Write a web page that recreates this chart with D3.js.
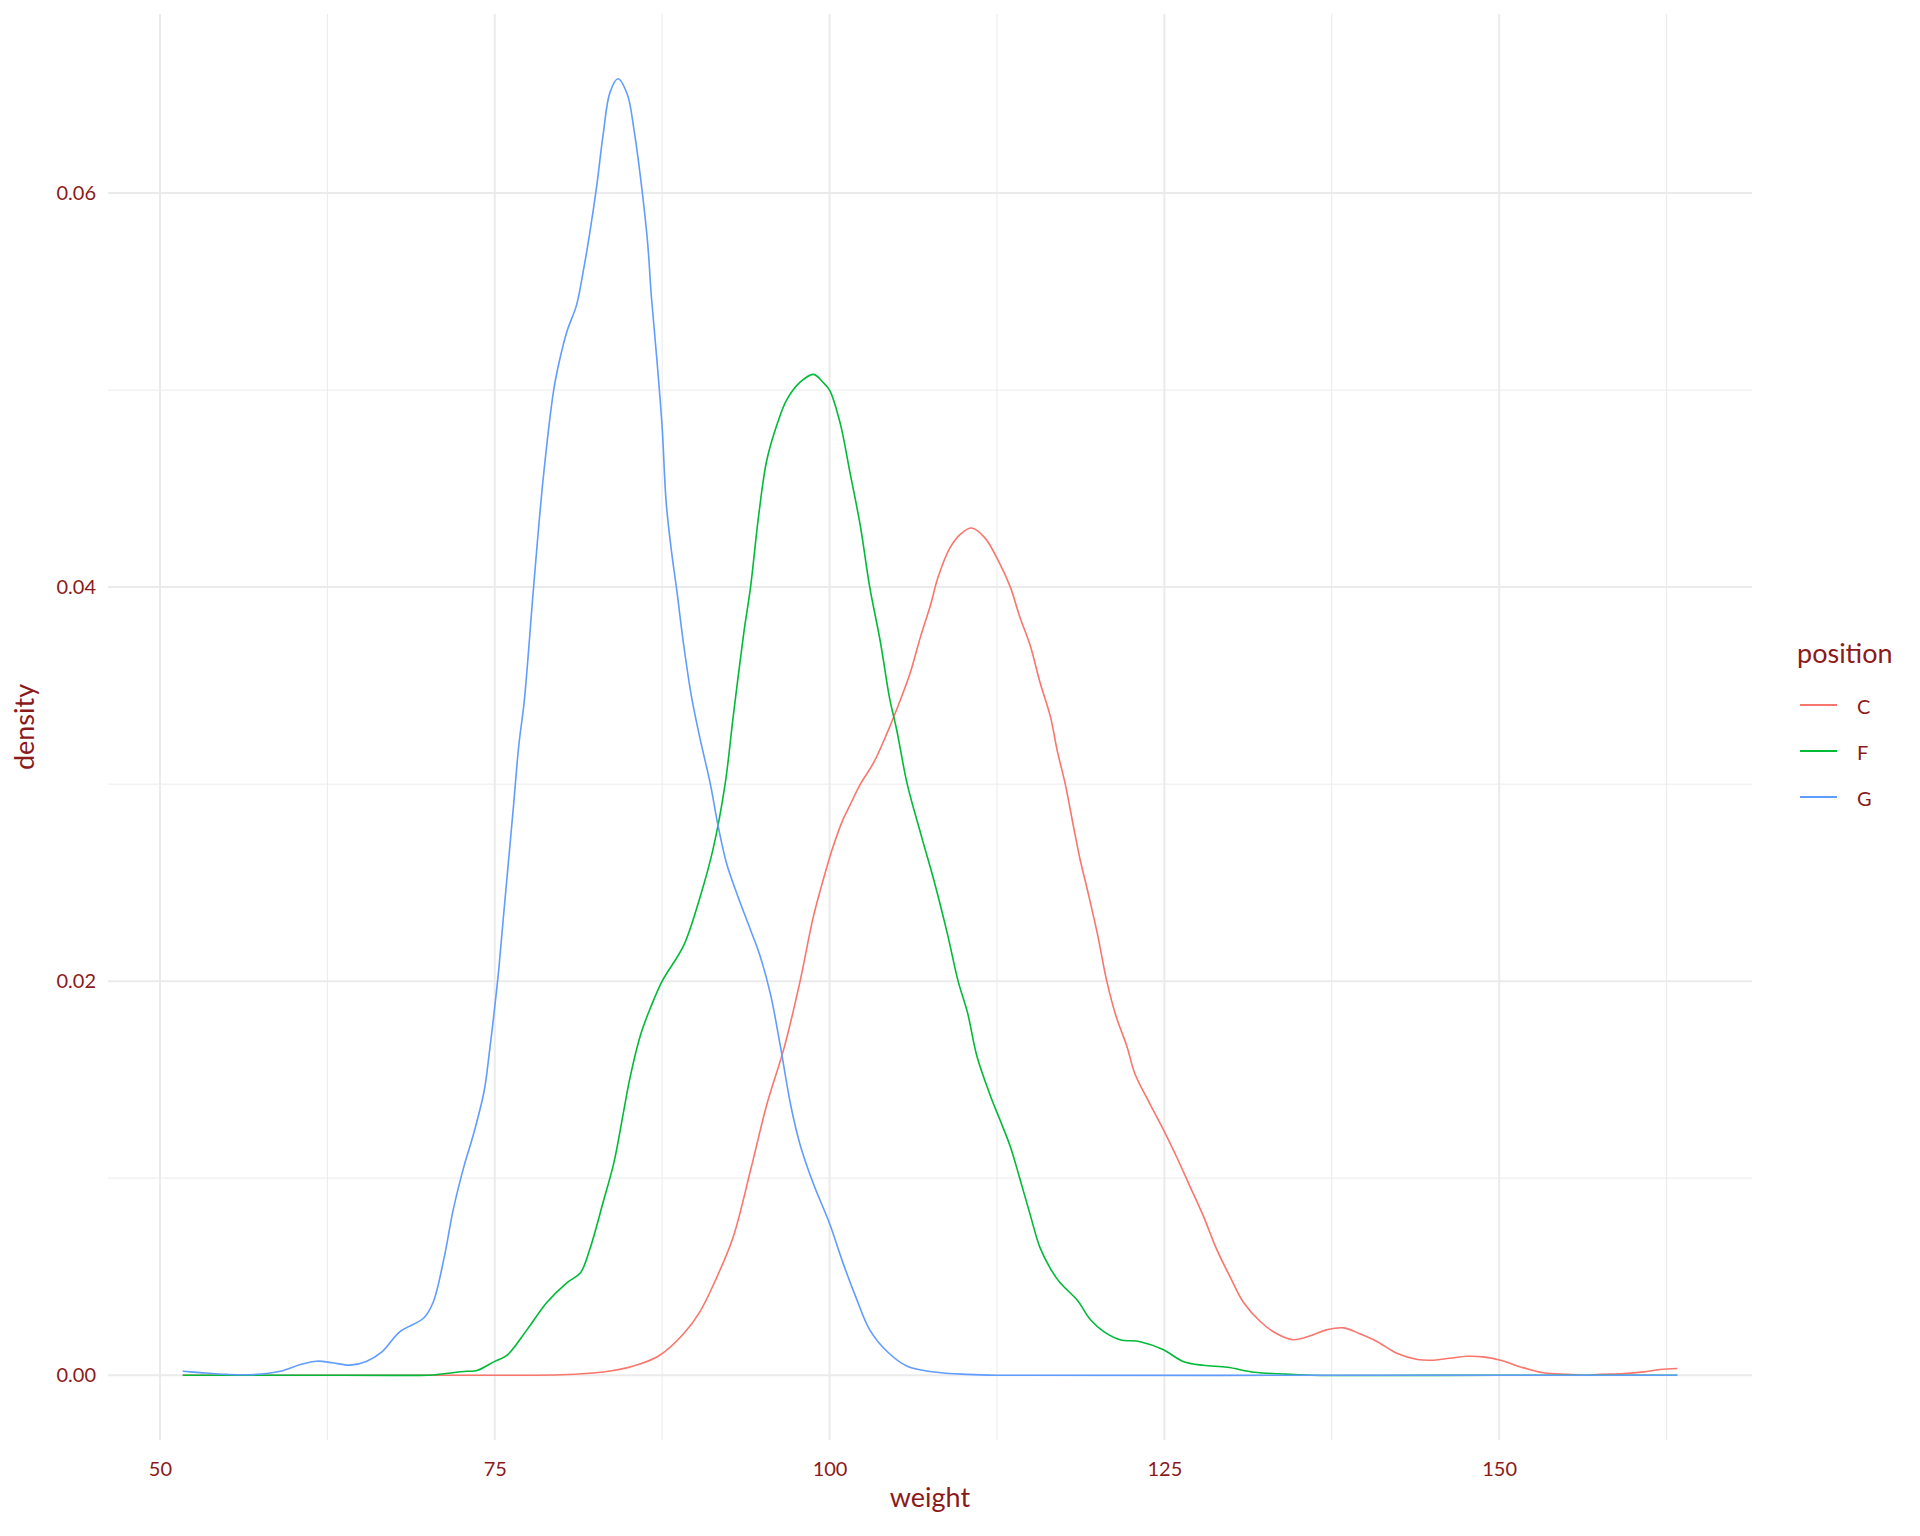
<!DOCTYPE html>
<html>
<head>
<meta charset="utf-8">
<script src="https://cdn.jsdelivr.net/npm/d3@7"></script>
<style>
	body { margin: 0; background: #fff; }
	svg text { font-family: Lato, "Open Sans", sans-serif; }
</style>
</head>
<body>
<script>
// data: [weight, density]
var groups = ["C", "F", "G"]
var colors = ["#F8766D", "#00BA38", "#619CFF"]

var densC = [
	[51.7, 0], [60, 0], [70, 0], [75, 0], [80, 0.00002], [83.1, 0.00016], [85.3, 0.00045],
	[87.3, 0.0010], [89.1, 0.0021], [90.3, 0.0032], [91.6, 0.0050], [92.8, 0.0070],
	[94.1, 0.0104], [95.3, 0.0137], [96.6, 0.0166], [97.8, 0.0200], [98.8, 0.0233],
	[99.8, 0.0258], [100.2, 0.0267], [101.0, 0.0282], [101.5, 0.0289], [102.3, 0.0300],
	[103.3, 0.0311], [104.3, 0.0326], [105.3, 0.0343], [106.0, 0.0356], [106.8, 0.0375],
	[107.5, 0.0390], [108.1, 0.0405], [109.0, 0.0420], [109.8, 0.0427], [110.6, 0.0430],
	[111.6, 0.0425], [112.7, 0.0412], [113.5, 0.0400], [114.2, 0.0385], [115.0, 0.0370],
	[115.7, 0.0352], [116.5, 0.0334], [117.0, 0.0317], [117.6, 0.0300], [118.2, 0.0279],
	[118.7, 0.0262], [119.3, 0.0245], [120.0, 0.0224], [120.7, 0.0200], [121.4, 0.0182],
	[122.2, 0.0167], [122.8, 0.0153], [123.9, 0.0138], [124.9, 0.0125], [125.9, 0.0111],
	[126.9, 0.0096], [127.9, 0.0081], [128.9, 0.0064], [129.9, 0.0050], [130.9, 0.0037],
	[132.2, 0.0027], [133.4, 0.0021], [134.6, 0.0018], [135.9, 0.0020], [137.1, 0.0023],
	[138.4, 0.0024], [139.6, 0.0021], [140.9, 0.0017], [142.4, 0.0011], [143.9, 0.0008],
	[144.9, 0.00076], [146.3, 0.00086], [147.6, 0.00096], [148.8, 0.00093], [150.1, 0.00076],
	[151.6, 0.00042], [153.3, 0.00012], [155.1, 0.00004], [156.5, 0], [157.5, 0.00004],
	[159.3, 0.00008], [160.8, 0.00017], [162.0, 0.00029], [163.3, 0.00034]
]

var densF = [
	[51.7, 0], [60, 0], [70, 0], [70.7, 0.00003], [72.9, 0.0002], [73.6, 0.00022],
	[75.0, 0.0007], [75.9, 0.0010], [77.4, 0.0023], [78.9, 0.0037], [80.4, 0.0047],
	[81.4, 0.0052], [82.1, 0.0064], [83.1, 0.0088], [83.9, 0.0108], [84.6, 0.0133],
	[85.1, 0.0151], [85.9, 0.0173], [86.6, 0.0186], [87.5, 0.0200], [89.1, 0.0218],
	[90.3, 0.0242], [91.3, 0.0267], [92.2, 0.0300], [92.8, 0.0334], [93.6, 0.0377],
	[94.1, 0.0400], [94.7, 0.0436], [95.3, 0.0464], [96.1, 0.0483], [96.8, 0.0495],
	[97.8, 0.0504], [98.8, 0.0508], [99.5, 0.0504], [100.0, 0.0500], [100.8, 0.0483],
	[101.5, 0.0459], [102.3, 0.0431], [103.0, 0.0400], [103.8, 0.0372], [104.5, 0.0343],
	[105.0, 0.0328], [105.8, 0.0300], [106.8, 0.0275], [107.8, 0.0251], [108.8, 0.0224],
	[109.6, 0.0200], [110.3, 0.0184], [111.0, 0.0162], [112.0, 0.0142], [112.7, 0.0130],
	[113.5, 0.0116], [114.2, 0.0100], [115.0, 0.0081], [115.7, 0.0065], [116.5, 0.0054],
	[117.2, 0.0047], [118.5, 0.0038], [119.5, 0.0028], [120.5, 0.0022], [121.7, 0.0018],
	[123.2, 0.0017], [124.9, 0.0013], [126.4, 0.0007], [127.9, 0.0005], [129.7, 0.0004],
	[131.7, 0.00015], [133.6, 0.00007], [136, 0], [150, 0], [163.3, 0]
]

var densG = [
	[51.7, 0.0002], [53.0, 0.00013], [55.0, 0.00004], [57.0, 0.00003], [59.0, 0.0002],
	[60.5, 0.00054], [61.7, 0.00071], [62.9, 0.00063], [64.2, 0.00051], [65.4, 0.0007],
	[66.6, 0.0012], [67.9, 0.0022], [69.7, 0.0029], [70.4, 0.0037], [71.2, 0.0059],
	[71.9, 0.0084], [72.7, 0.0106], [73.4, 0.0122], [74.2, 0.0144], [74.6, 0.0164],
	[75.0, 0.0187], [75.3, 0.0206], [75.6, 0.0229], [76.0, 0.0259], [76.4, 0.0289],
	[76.8, 0.0320], [77.2, 0.0342], [77.9, 0.0400], [78.6, 0.0454], [79.4, 0.0500],
	[79.8, 0.0514], [80.4, 0.0530], [81.1, 0.0543], [81.6, 0.0560], [82.1, 0.0580],
	[82.6, 0.0603], [83.1, 0.0630], [83.6, 0.0651], [84.2, 0.0658], [84.9, 0.0650],
	[85.4, 0.0632], [85.9, 0.0607], [86.4, 0.0576], [86.7, 0.0547], [87.1, 0.0516],
	[87.5, 0.0481], [87.8, 0.0443], [88.2, 0.0418], [88.6, 0.0398], [89.1, 0.0371],
	[89.7, 0.0344], [90.3, 0.0324], [91.1, 0.0300], [91.7, 0.0278], [92.3, 0.0260],
	[93.1, 0.0244], [94.1, 0.0226], [94.8, 0.0213], [95.6, 0.0193], [96.3, 0.0168],
	[97.1, 0.0137], [97.8, 0.0117], [98.8, 0.0097], [100.0, 0.0077], [101.0, 0.0057],
	[102.0, 0.0039], [103.0, 0.0023], [104.3, 0.0012], [105.8, 0.00045], [107.8, 0.00016],
	[110.3, 0.00004], [112.5, 0], [140, 0], [163.3, 0]
]

var xMajor = [50, 75, 100, 125, 150]
var xMinor = [62.5, 87.5, 112.5, 137.5, 162.5]
var yMajor = [0, 0.02, 0.04, 0.06]
var yMinor = [0.01, 0.03, 0.05]

var textCol = "#8B1A1A"
var panel = { left: 108, right: 1752, top: 14, bottom: 1440 }
var W = 1920, H = 1536

var series = [densC, densF, densG]

var svg = d3.select("body").append("svg")
	.attr("width", W)
	.attr("height", H)

// 5% expansion like ggplot
var allPts = d3.merge(series)
var xExt = d3.extent(allPts, function(d) { return d[0] })
var yMax = d3.max(allPts, function(d) { return d[1] })
var xPad = (xExt[1] - xExt[0]) * 0.05
var yPad = yMax * 0.05

var x = d3.scaleLinear().domain([xExt[0] - xPad, xExt[1] + xPad]).range([panel.left, panel.right])
var y = d3.scaleLinear().domain([-yPad, yMax + yPad]).range([panel.bottom, panel.top])

var grid = svg.append("g")
grid.selectAll(".xmin").data(xMinor).enter().append("line")
	.attr("x1", function(d) { return x(d) }).attr("x2", function(d) { return x(d) })
	.attr("y1", panel.top).attr("y2", panel.bottom)
	.attr("stroke", "#ebebeb").attr("stroke-width", 1)
grid.selectAll(".ymin").data(yMinor).enter().append("line")
	.attr("y1", function(d) { return y(d) }).attr("y2", function(d) { return y(d) })
	.attr("x1", panel.left).attr("x2", panel.right)
	.attr("stroke", "#ebebeb").attr("stroke-width", 1)
grid.selectAll(".xmaj").data(xMajor).enter().append("line")
	.attr("x1", function(d) { return x(d) }).attr("x2", function(d) { return x(d) })
	.attr("y1", panel.top).attr("y2", panel.bottom)
	.attr("stroke", "#ebebeb").attr("stroke-width", 2)
grid.selectAll(".ymaj").data(yMajor).enter().append("line")
	.attr("y1", function(d) { return y(d) }).attr("y2", function(d) { return y(d) })
	.attr("x1", panel.left).attr("x2", panel.right)
	.attr("stroke", "#ebebeb").attr("stroke-width", 2)

var line = d3.line()
	.x(function(d) { return x(d[0]) })
	.y(function(d) { return y(Math.max(0, d[1])) })
	.curve(d3.curveCatmullRom.alpha(0.5))

series.forEach(function(s, i) {
	svg.append("path")
		.datum(s)
		.attr("d", line)
		.attr("fill", "none")
		.attr("stroke", colors[i])
		.attr("stroke-width", 1.6)
})

// axes
var xAxis = svg.append("g")
	.attr("transform", "translate(0," + panel.bottom + ")")
	.call(d3.axisBottom(x).tickValues(xMajor).tickSize(0).tickPadding(22).tickFormat(d3.format("d")))
var yAxis = svg.append("g")
	.attr("transform", "translate(" + panel.left + ",0)")
	.call(d3.axisLeft(y).tickValues(yMajor).tickSize(0).tickPadding(12).tickFormat(d3.format(".2f")))

;[xAxis, yAxis].forEach(function(a) {
	a.select(".domain").remove()
	a.selectAll("text").attr("fill", textCol).style("font-size", "20px")
})

svg.append("text")
	.attr("x", (panel.left + panel.right) / 2)
	.attr("y", 1507)
	.attr("text-anchor", "middle")
	.attr("fill", textCol)
	.style("font-size", "27px")
	.text("weight")

svg.append("text")
	.attr("transform", "translate(34," + (panel.top + panel.bottom) / 2 + ") rotate(-90)")
	.attr("text-anchor", "middle")
	.attr("fill", textCol)
	.style("font-size", "27px")
	.text("density")

// legend
var leg = svg.append("g")
leg.append("text")
	.attr("x", 1797)
	.attr("y", 663)
	.attr("fill", textCol)
	.style("font-size", "27px")
	.text("position")

var keyY = [705, 751, 797]
groups.forEach(function(g, i) {
	leg.append("line")
		.attr("x1", 1800).attr("x2", 1837)
		.attr("y1", keyY[i]).attr("y2", keyY[i])
		.attr("stroke", colors[i]).attr("stroke-width", 2)
	leg.append("text")
		.attr("x", 1857)
		.attr("y", keyY[i] + 2)
		.attr("dy", "0.35em")
		.attr("fill", textCol)
		.style("font-size", "20px")
		.text(g)
})
</script>
</body>
</html>
